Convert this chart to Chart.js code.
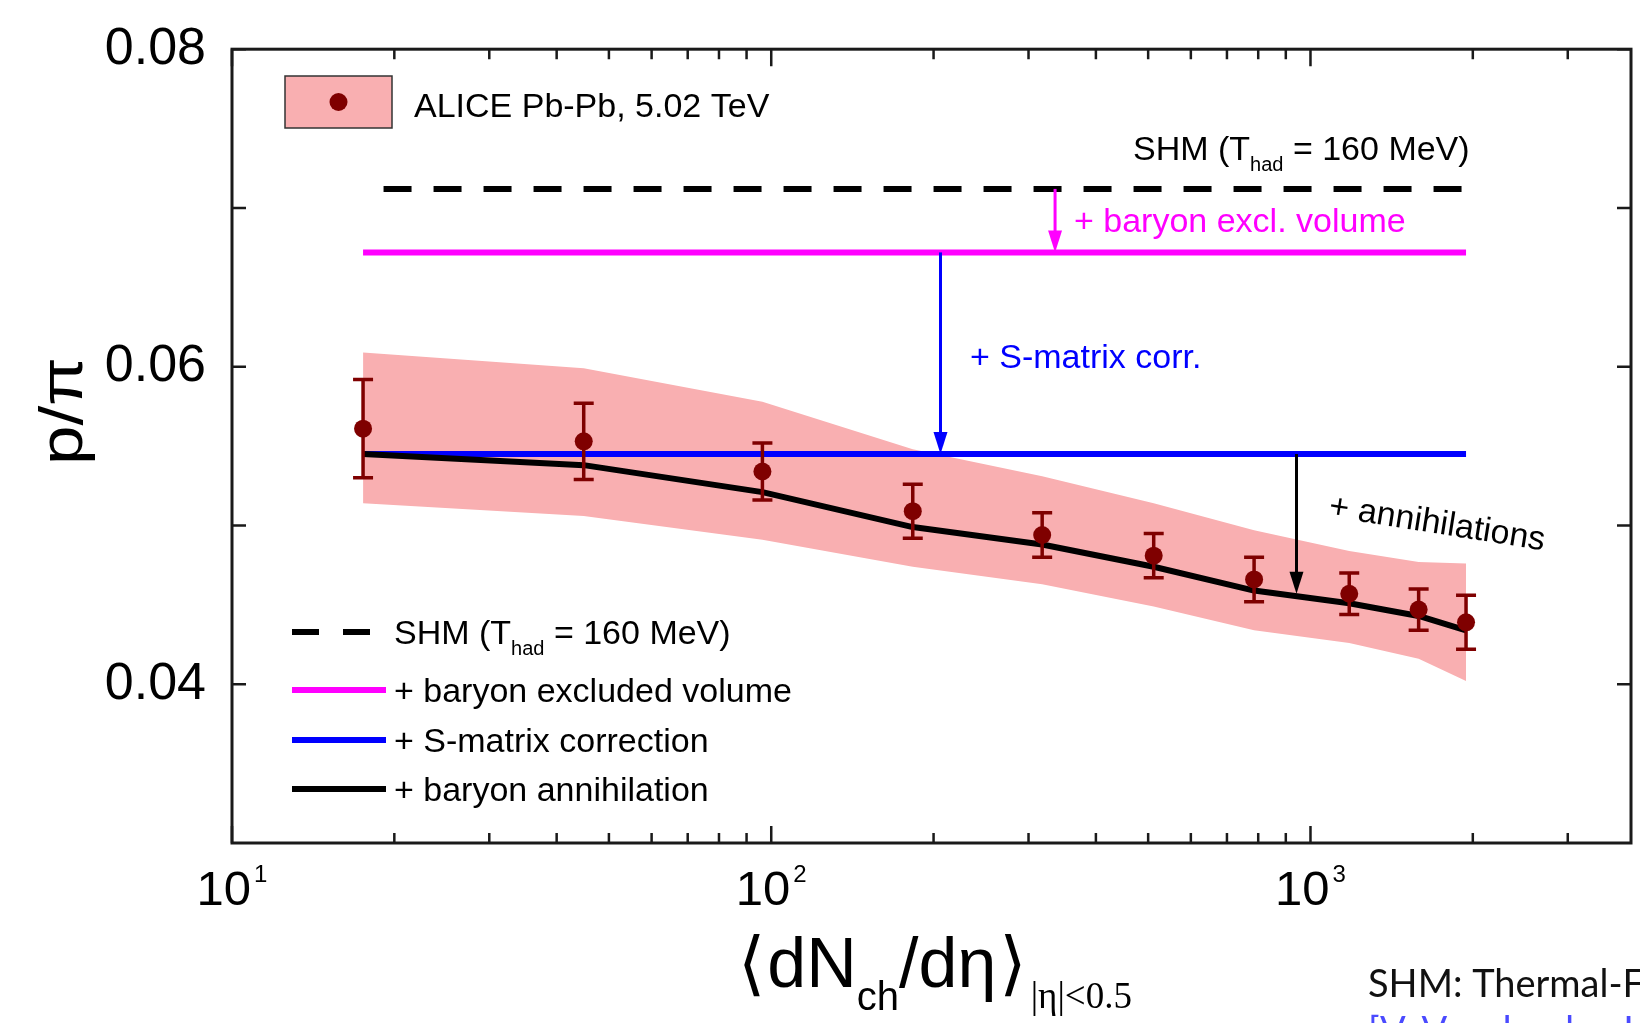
<!DOCTYPE html>
<html lang="en">
<head>
    <meta charset="UTF-8">
    <title>p/pi vs dNch/deta</title>
    <style>
        body { margin: 0; background: #fff; overflow: hidden; }
    </style>
</head>
<body>

    <canvas id="myChart" width="1640" height="1023"></canvas>

    <script src="https://cdn.jsdelivr.net/npm/chart.js"></script>

    <script>

        // ALICE Pb-Pb 5.02 TeV, p/pi vs multiplicity
        const dndeta  = [17.5, 44.9, 96.3, 183, 318, 512, 786, 1180, 1587, 1943];
        const ratio   = [0.0561, 0.0553, 0.0534, 0.0509, 0.0494, 0.0481, 0.0466, 0.0457, 0.0447, 0.0439];
        const statErr = [0.0031, 0.0024, 0.0018, 0.0017, 0.0014, 0.0014, 0.0014, 0.0013, 0.0013, 0.0017];
        const sysHigh = [0.0609, 0.0599, 0.0578, 0.0548, 0.0531, 0.0514, 0.0497, 0.0484, 0.0477, 0.0476];
        const sysLow  = [0.0514, 0.0506, 0.0491, 0.0474, 0.0463, 0.0449, 0.0434, 0.0426, 0.0416, 0.0402];

        // model curves
        const annihilation = [0.0545, 0.0538, 0.0521, 0.0499, 0.0488, 0.0474, 0.0459, 0.0451, 0.0443, 0.0434];
        const shmRange  = [19.1, 1950];
        const lineRange = [17.5, 1943];
        const shmValue  = 0.0712;
        const exclValue = 0.0672;
        const smatValue = 0.0545;

        // arrows between the model steps
        const arrowX    = [336, 206, 942];
        const arrowFrom = [0.0712, 0.0672, 0.0545];
        const arrowTo   = [0.0672, 0.0545, 0.0457];
        const arrowCol  = ['#ff00ff', '#0000ff', '#000000'];

        // ticks
        const yTicks = [0.04, 0.06, 0.08];
        const yMinor = [0.05, 0.07];
        const xTicks = [10, 100, 1000];
        const xExp   = ['1', '2', '3'];

        const SANS = 'Liberation Sans, Arial, Helvetica, sans-serif';
        const PINK = '#f9afb1';
        const DARKRED = '#7f0000';

        function f(size, fam) { return size + 'px ' + (fam || SANS); }

        // text with sub/superscripts, drawn left to right
        function rich(ctx, x, y, parts) {
            let cx = x;
            parts.forEach(p => {
                ctx.font = p.font;
                ctx.fillText(p.t, cx, y + (p.dy || 0));
                cx += ctx.measureText(p.t).width + (p.gap || 0);
            });
            return cx;
        }

        function arrow(ctx, px, y1, y2, col) {
            const head = 22, half = 7;
            ctx.strokeStyle = col;
            ctx.fillStyle = col;
            ctx.lineWidth = 3;
            ctx.beginPath();
            ctx.moveTo(px, y1);
            ctx.lineTo(px, y2 - head + 2);
            ctx.stroke();
            ctx.beginPath();
            ctx.moveTo(px - half, y2 - head);
            ctx.lineTo(px + half, y2 - head);
            ctx.lineTo(px, y2);
            ctx.closePath();
            ctx.fill();
        }

        const decor = {
            id: 'decor',
            beforeDatasetDraw(chart, args) {
                if (args.index !== 0) return;
                // statistical error bars, under the markers
                const { ctx, scales: { x, y } } = chart;
                ctx.save();
                ctx.strokeStyle = DARKRED;
                ctx.lineWidth = 3.5;
                dndeta.forEach((v, i) => {
                    const px = x.getPixelForValue(v);
                    const t = y.getPixelForValue(ratio[i] + statErr[i]);
                    const b = y.getPixelForValue(ratio[i] - statErr[i]);
                    ctx.beginPath();
                    ctx.moveTo(px, t); ctx.lineTo(px, b);
                    ctx.moveTo(px - 10, t); ctx.lineTo(px + 10, t);
                    ctx.moveTo(px - 10, b); ctx.lineTo(px + 10, b);
                    ctx.stroke();
                });
                ctx.restore();
            },
            afterDraw(chart) {
                const { ctx, chartArea: a, scales: { x, y } } = chart;
                ctx.save();

                // arrows
                arrowX.forEach((v, i) => {
                    arrow(ctx, x.getPixelForValue(v), y.getPixelForValue(arrowFrom[i]),
                          y.getPixelForValue(arrowTo[i]), arrowCol[i]);
                });

                // frame
                ctx.strokeStyle = '#1a1a1a';
                ctx.lineWidth = 3;
                ctx.strokeRect(a.left, a.top, a.right - a.left, a.bottom - a.top);

                // inward ticks
                ctx.lineWidth = 2.5;
                const xMinor = [];
                xTicks.forEach(d => { for (let k = 2; k <= 9; k++) if (k * d < x.max) xMinor.push(k * d); });
                ctx.beginPath();
                xTicks.forEach(v => {
                    const px = x.getPixelForValue(v);
                    ctx.moveTo(px, a.bottom); ctx.lineTo(px, a.bottom - 17);
                    ctx.moveTo(px, a.top); ctx.lineTo(px, a.top + 17);
                });
                xMinor.forEach(v => {
                    const px = x.getPixelForValue(v);
                    ctx.moveTo(px, a.bottom); ctx.lineTo(px, a.bottom - 10);
                    ctx.moveTo(px, a.top); ctx.lineTo(px, a.top + 10);
                });
                yTicks.concat(yMinor).forEach(v => {
                    const py = y.getPixelForValue(v);
                    ctx.moveTo(a.left, py); ctx.lineTo(a.left + 14, py);
                    ctx.moveTo(a.right, py); ctx.lineTo(a.right - 14, py);
                });
                ctx.stroke();

                // x tick labels 10^n
                ctx.fillStyle = '#000';
                ctx.textAlign = 'left';
                ctx.textBaseline = 'alphabetic';
                xTicks.forEach((v, i) => {
                    const px = x.getPixelForValue(v);
                    ctx.font = f(49);
                    const w1 = ctx.measureText('10').width;
                    ctx.font = f(24);
                    const w2 = ctx.measureText(xExp[i]).width;
                    const left = px - (w1 + w2 + 3) / 2;
                    rich(ctx, left, 905, [
                        { t: '10', font: f(49), gap: 3 },
                        { t: xExp[i], font: f(24), dy: -23 }
                    ]);
                });

                // y title
                ctx.save();
                ctx.translate(65, 411);
                ctx.rotate(-Math.PI / 2);
                ctx.font = f(62);
                ctx.textAlign = 'center';
                ctx.textBaseline = 'middle';
                const wy = ctx.measureText('p/π').width;
                ctx.scale(108 / wy, 1);
                ctx.fillText('p/π', 0, 0);
                ctx.restore();

                // x title
                rich(ctx, 738, 987, [
                    { t: '⟨', font: f(70, 'DejaVu Sans'), gap: 2 },
                    { t: 'dN', font: f(70) },
                    { t: 'ch', font: f(40), dy: 23 },
                    { t: '/dη', font: f(70), gap: 3 },
                    { t: '⟩', font: f(70, 'DejaVu Sans'), gap: 4 },
                    { t: '|η|<0.5', font: f(37, 'Liberation Serif, Times New Roman, serif'), dy: 21 }
                ]);

                // model annotations
                ctx.fillStyle = '#000';
                rich(ctx, 1133, 160, [
                    { t: 'SHM (T', font: f(34) },
                    { t: 'had', font: f(20), dy: 11 },
                    { t: ' = 160 MeV)', font: f(34) }
                ]);
                ctx.font = f(34);
                ctx.fillStyle = '#ff00ff';
                ctx.fillText('+ baryon excl. volume', 1074, 232);
                ctx.fillStyle = '#0000ff';
                ctx.fillText('+ S-matrix corr.', 970, 368);
                ctx.save();
                ctx.fillStyle = '#000';
                ctx.translate(1437, 524);
                ctx.rotate(9 * Math.PI / 180);
                ctx.textAlign = 'center';
                ctx.textBaseline = 'middle';
                ctx.fillText('+ annihilations', 0, 0);
                ctx.restore();

                // data legend (top left)
                ctx.fillStyle = PINK;
                ctx.fillRect(285, 76, 107, 52);
                ctx.strokeStyle = '#333';
                ctx.lineWidth = 1.5;
                ctx.strokeRect(285, 76, 107, 52);
                ctx.fillStyle = DARKRED;
                ctx.beginPath();
                ctx.arc(338.5, 102, 9, 0, Math.PI * 2);
                ctx.fill();
                ctx.fillStyle = '#000';
                ctx.font = f(34);
                ctx.fillText('ALICE Pb-Pb, 5.02 TeV', 414, 117);

                // model legend (bottom left)
                const rows = [
                    { y: 632, col: '#000', dash: [27, 24], end: 370 },
                    { y: 690, col: '#ff00ff', dash: [], end: 386 },
                    { y: 740, col: '#0000ff', dash: [], end: 386 },
                    { y: 789, col: '#000', dash: [], end: 386 }
                ];
                ctx.lineWidth = 6;
                rows.forEach(r => {
                    ctx.strokeStyle = r.col;
                    ctx.setLineDash(r.dash);
                    ctx.beginPath();
                    ctx.moveTo(292, r.y);
                    ctx.lineTo(r.end, r.y);
                    ctx.stroke();
                });
                ctx.setLineDash([]);
                ctx.fillStyle = '#000';
                rich(ctx, 394, 644, [
                    { t: 'SHM (T', font: f(34) },
                    { t: 'had', font: f(20), dy: 11 },
                    { t: ' = 160 MeV)', font: f(34) }
                ]);
                ctx.font = f(34);
                ctx.fillText('+ baryon excluded volume', 394, 702);
                ctx.fillText('+ S-matrix correction', 394, 752);
                ctx.fillText('+ baryon annihilation', 394, 801);

                // slide footer, cut by the page edge
                ctx.font = f(38, 'Lato, DejaVu Sans, sans-serif');
                ctx.fillStyle = '#111';
                ctx.fillText('SHM: Thermal-FIST', 1368, 997);
                ctx.fillStyle = '#4a4aff';
                ctx.fillText('[V. Vovchenko, H. Stoecker, Comput. Phys. Commun.]', 1368, 1044);

                ctx.restore();
            }
        };

        const xy = (xs, ys) => xs.map((v, i) => ({ x: v, y: ys[i] }));
        const hline = (r, v) => [{ x: r[0], y: v }, { x: r[1], y: v }];

        const ctx = document.getElementById('myChart');

        new Chart(ctx, {
            type: 'line',
            data: {
                datasets: [
                    {
                        label: 'ALICE Pb-Pb, 5.02 TeV',
                        data: xy(dndeta, ratio),
                        showLine: false,
                        pointRadius: 9,
                        pointBorderWidth: 0,
                        pointBackgroundColor: DARKRED,
                        borderColor: DARKRED
                    },
                    {
                        label: '+ baryon annihilation',
                        data: xy(dndeta, annihilation),
                        borderColor: '#000',
                        borderWidth: 6,
                        borderJoinStyle: 'round',
                        pointRadius: 0
                    },
                    {
                        label: '+ S-matrix correction',
                        data: hline(lineRange, smatValue),
                        borderColor: '#0000ff',
                        borderWidth: 6,
                        pointRadius: 0
                    },
                    {
                        label: '+ baryon excluded volume',
                        data: hline(lineRange, exclValue),
                        borderColor: '#ff00ff',
                        borderWidth: 6,
                        pointRadius: 0
                    },
                    {
                        label: 'SHM (T_had = 160 MeV)',
                        data: hline(shmRange, shmValue),
                        borderColor: '#000',
                        borderWidth: 6,
                        borderDash: [28, 22],
                        pointRadius: 0
                    },
                    {
                        label: 'sys high',
                        data: xy(dndeta, sysHigh),
                        borderColor: 'transparent',
                        pointRadius: 0,
                        fill: false
                    },
                    {
                        label: 'sys low',
                        data: xy(dndeta, sysLow),
                        borderColor: 'transparent',
                        backgroundColor: PINK,
                        pointRadius: 0,
                        fill: '-1'
                    }
                ]
            },
            options: {
                responsive: false,
                animation: false,
                layout: { padding: { top: 45, right: 7, left: 0, bottom: 0 } },
                plugins: {
                    legend: { display: false },
                    tooltip: { enabled: false }
                },
                scales: {
                    x: {
                        type: 'logarithmic',
                        min: 10,
                        max: 3930,
                        grid: { display: false },
                        border: { display: false },
                        ticks: { display: false },
                        afterFit(s) { s.height = 180; }
                    },
                    y: {
                        min: 0.03,
                        max: 0.08,
                        grid: { display: false },
                        border: { display: false },
                        afterBuildTicks(s) { s.ticks = yTicks.map(v => ({ value: v })); },
                        ticks: {
                            color: '#000',
                            padding: 18,
                            font: { family: SANS, size: 52 },
                            callback: v => v.toFixed(2)
                        },
                        afterFit(s) { s.width = 232; }
                    }
                }
            },
            plugins: [decor]
        });
    </script>

</body>
</html>
